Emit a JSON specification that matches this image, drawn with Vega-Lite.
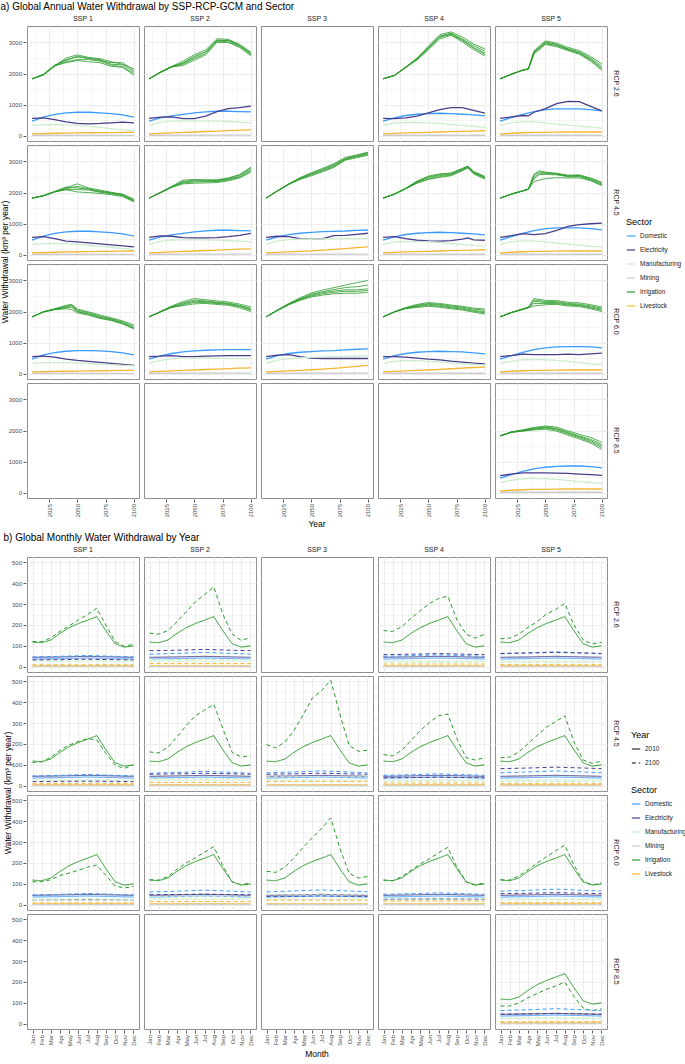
{
 "$schema": "https://vega.github.io/schema/vega-lite/v6.json",
 "background": "white",
 "padding": {"left": 0, "top": 2, "right": 0, "bottom": 0},
 "config": {
  "font": "Liberation Sans",
  "view": {"stroke": "#8f8f8f", "strokeWidth": 1},
  "axis": {"labelFontSize": 6, "labelColor": "#4d4d4d", "tickColor": "#333333", "tickSize": 3, "tickWidth": 0.8, "domain": false, "gridColor": "#ebebeb", "gridWidth": 0.8, "labelPadding": 1.5},
  "header": {"labelFontSize": 7, "labelFontWeight": "normal", "labelColor": "#1a1a1a", "labelPadding": 3, "titleFontSize": 8.5, "titleFontWeight": "normal", "titleColor": "#000000"},
  "legend": {"titleFontSize": 9, "titleFontWeight": "normal", "titleColor": "#000000", "labelFontSize": 6.5, "labelColor": "#1a1a1a", "symbolType": "stroke", "symbolSize": 70, "symbolStrokeWidth": 1.2, "rowPadding": 5, "titlePadding": 4, "labelOffset": 4},
  "title": {"fontSize": 10, "fontWeight": "normal", "anchor": "start", "color": "#000000", "offset": 3}
 },
 "datasets": {
  "a": [
   {"s":"SSP 1","r":"RCP 2.6","k":"Irrigation","g":1,"2010":1830,"2020":1960,"2030":2250,"2040":2500,"2050":2600,"2060":2520,"2070":2480,"2080":2380,"2090":2300,"2100":2150},
   {"s":"SSP 1","r":"RCP 2.6","k":"Irrigation","g":2,"2010":1830,"2020":1970,"2030":2260,"2040":2450,"2050":2530,"2060":2500,"2070":2420,"2080":2350,"2090":2350,"2100":2100},
   {"s":"SSP 1","r":"RCP 2.6","k":"Irrigation","g":3,"2010":1830,"2020":1950,"2030":2240,"2040":2380,"2050":2450,"2060":2450,"2070":2400,"2080":2270,"2090":2220,"2100":2000},
   {"s":"SSP 1","r":"RCP 2.6","k":"Irrigation","g":4,"2010":1830,"2020":1980,"2030":2270,"2040":2420,"2050":2560,"2060":2480,"2070":2450,"2080":2300,"2090":2280,"2100":2050},
   {"s":"SSP 1","r":"RCP 2.6","k":"Irrigation","g":5,"2010":1830,"2020":1960,"2030":2250,"2040":2350,"2050":2420,"2060":2380,"2070":2350,"2080":2230,"2090":2200,"2100":1950},
   {"s":"SSP 1","r":"RCP 2.6","k":"Domestic","g":0,"2010":470,"2020":600,"2030":690,"2040":734,"2050":755,"2060":755,"2070":734,"2080":713,"2090":670,"2100":600},
   {"s":"SSP 1","r":"RCP 2.6","k":"Electricity","g":0,"2010":560,"2020":575,"2030":521,"2040":447,"2050":394,"2060":383,"2070":394,"2080":415,"2090":440,"2100":410},
   {"s":"SSP 1","r":"RCP 2.6","k":"Manufacturing","g":0,"2010":330,"2020":350,"2030":360,"2040":350,"2050":330,"2060":300,"2070":270,"2080":230,"2090":190,"2100":150},
   {"s":"SSP 1","r":"RCP 2.6","k":"Mining","g":0,"2010":15,"2100":12},
   {"s":"SSP 1","r":"RCP 2.6","k":"Livestock","g":0,"2010":60,"2020":70,"2030":80,"2040":85,"2050":90,"2060":95,"2070":100,"2080":100,"2090":105,"2100":105},

   {"s":"SSP 2","r":"RCP 2.6","k":"Irrigation","g":1,"2010":1830,"2020":2050,"2030":2230,"2040":2400,"2050":2610,"2060":2760,"2070":3120,"2080":3100,"2090":2940,"2100":2690},
   {"s":"SSP 2","r":"RCP 2.6","k":"Irrigation","g":2,"2010":1830,"2020":2030,"2030":2210,"2040":2350,"2050":2560,"2060":2700,"2070":3080,"2080":3060,"2090":2900,"2100":2650},
   {"s":"SSP 2","r":"RCP 2.6","k":"Irrigation","g":3,"2010":1830,"2020":2040,"2030":2220,"2040":2300,"2050":2480,"2060":2640,"2070":3050,"2080":3020,"2090":2870,"2100":2610},
   {"s":"SSP 2","r":"RCP 2.6","k":"Irrigation","g":4,"2010":1830,"2020":2050,"2030":2230,"2040":2330,"2050":2520,"2060":2700,"2070":3040,"2080":3080,"2090":2910,"2100":2640},
   {"s":"SSP 2","r":"RCP 2.6","k":"Irrigation","g":5,"2010":1830,"2020":2030,"2030":2210,"2040":2260,"2050":2430,"2060":2600,"2070":3000,"2080":3000,"2090":2840,"2100":2570},
   {"s":"SSP 2","r":"RCP 2.6","k":"Domestic","g":0,"2010":470,"2020":575,"2030":640,"2040":690,"2050":734,"2060":766,"2070":787,"2080":787,"2090":777,"2100":766},
   {"s":"SSP 2","r":"RCP 2.6","k":"Electricity","g":0,"2010":560,"2020":596,"2030":606,"2040":553,"2050":553,"2060":628,"2070":777,"2080":872,"2090":904,"2100":950},
   {"s":"SSP 2","r":"RCP 2.6","k":"Manufacturing","g":0,"2010":330,"2020":430,"2030":468,"2040":479,"2050":479,"2060":479,"2070":468,"2080":457,"2090":436,"2100":415},
   {"s":"SSP 2","r":"RCP 2.6","k":"Mining","g":0,"2010":15,"2100":18},
   {"s":"SSP 2","r":"RCP 2.6","k":"Livestock","g":0,"2010":60,"2020":75,"2030":90,"2040":105,"2050":120,"2060":135,"2070":150,"2080":165,"2090":180,"2100":190},

   {"s":"SSP 4","r":"RCP 2.6","k":"Irrigation","g":1,"2010":1830,"2020":1945,"2030":2210,"2040":2500,"2050":2880,"2060":3250,"2070":3340,"2080":3180,"2090":2950,"2100":2790},
   {"s":"SSP 4","r":"RCP 2.6","k":"Irrigation","g":2,"2010":1830,"2020":1940,"2030":2200,"2040":2480,"2050":2840,"2060":3200,"2070":3300,"2080":3120,"2090":2900,"2100":2720},
   {"s":"SSP 4","r":"RCP 2.6","k":"Irrigation","g":3,"2010":1830,"2020":1935,"2030":2195,"2040":2460,"2050":2800,"2060":3160,"2070":3280,"2080":3090,"2090":2840,"2100":2660},
   {"s":"SSP 4","r":"RCP 2.6","k":"Irrigation","g":4,"2010":1830,"2020":1945,"2030":2205,"2040":2470,"2050":2830,"2060":3190,"2070":3260,"2080":3060,"2090":2820,"2100":2620},
   {"s":"SSP 4","r":"RCP 2.6","k":"Irrigation","g":5,"2010":1830,"2020":1935,"2030":2190,"2040":2440,"2050":2760,"2060":3110,"2070":3230,"2080":3020,"2090":2770,"2100":2570},
   {"s":"SSP 4","r":"RCP 2.6","k":"Domestic","g":0,"2010":470,"2020":575,"2030":650,"2040":690,"2050":713,"2060":723,"2070":713,"2080":690,"2090":670,"2100":640},
   {"s":"SSP 4","r":"RCP 2.6","k":"Electricity","g":0,"2010":560,"2020":553,"2030":575,"2040":628,"2050":734,"2060":840,"2070":904,"2080":904,"2090":819,"2100":723},
   {"s":"SSP 4","r":"RCP 2.6","k":"Manufacturing","g":0,"2010":330,"2020":410,"2030":425,"2040":425,"2050":415,"2060":394,"2070":360,"2080":330,"2090":298,"2100":266},
   {"s":"SSP 4","r":"RCP 2.6","k":"Mining","g":0,"2010":15,"2100":15},
   {"s":"SSP 4","r":"RCP 2.6","k":"Livestock","g":0,"2010":60,"2020":75,"2030":90,"2040":100,"2050":110,"2060":120,"2070":130,"2080":140,"2090":150,"2100":160},

   {"s":"SSP 5","r":"RCP 2.6","k":"Irrigation","g":1,"2010":1830,"2020":1985,"2030":2115,"2035":2155,"2040":2740,"2050":3050,"2060":2980,"2070":2840,"2080":2740,"2090":2550,"2100":2310},
   {"s":"SSP 5","r":"RCP 2.6","k":"Irrigation","g":2,"2010":1830,"2020":1980,"2030":2110,"2035":2150,"2040":2700,"2050":3020,"2060":2940,"2070":2800,"2080":2700,"2090":2500,"2100":2240},
   {"s":"SSP 5","r":"RCP 2.6","k":"Irrigation","g":3,"2010":1830,"2020":1975,"2030":2105,"2035":2145,"2040":2660,"2050":2990,"2060":2920,"2070":2780,"2080":2670,"2090":2460,"2100":2180},
   {"s":"SSP 5","r":"RCP 2.6","k":"Irrigation","g":4,"2010":1830,"2020":1980,"2030":2110,"2035":2150,"2040":2690,"2050":2960,"2060":2900,"2070":2760,"2080":2650,"2090":2440,"2100":2150},
   {"s":"SSP 5","r":"RCP 2.6","k":"Irrigation","g":5,"2010":1830,"2020":1975,"2030":2105,"2035":2140,"2040":2620,"2050":2940,"2060":2860,"2070":2740,"2080":2620,"2090":2400,"2100":2100},
   {"s":"SSP 5","r":"RCP 2.6","k":"Domestic","g":0,"2010":470,"2020":585,"2030":690,"2040":777,"2050":840,"2060":862,"2070":862,"2080":862,"2090":840,"2100":798},
   {"s":"SSP 5","r":"RCP 2.6","k":"Electricity","g":0,"2010":560,"2020":606,"2030":650,"2035":640,"2040":755,"2050":872,"2060":1030,"2070":1106,"2080":1096,"2090":947,"2100":798},
   {"s":"SSP 5","r":"RCP 2.6","k":"Manufacturing","g":0,"2010":330,"2020":415,"2030":447,"2040":447,"2050":415,"2060":372,"2070":340,"2080":308,"2090":277,"2100":245},
   {"s":"SSP 5","r":"RCP 2.6","k":"Mining","g":0,"2010":15,"2100":15},
   {"s":"SSP 5","r":"RCP 2.6","k":"Livestock","g":0,"2010":60,"2020":80,"2030":95,"2040":105,"2050":110,"2060":115,"2070":120,"2080":120,"2090":120,"2100":120},

   {"s":"SSP 1","r":"RCP 4.5","k":"Irrigation","g":1,"2010":1820,"2020":1900,"2030":2030,"2040":2150,"2050":2280,"2060":2150,"2070":2080,"2080":2010,"2090":1950,"2100":1790},
   {"s":"SSP 1","r":"RCP 4.5","k":"Irrigation","g":2,"2010":1820,"2020":1890,"2030":2020,"2040":2120,"2050":2200,"2060":2120,"2070":2050,"2080":1990,"2090":1930,"2100":1760},
   {"s":"SSP 1","r":"RCP 4.5","k":"Irrigation","g":3,"2010":1820,"2020":1905,"2030":2035,"2040":2180,"2050":2150,"2060":2100,"2070":2030,"2080":1980,"2090":1920,"2100":1740},
   {"s":"SSP 1","r":"RCP 4.5","k":"Irrigation","g":4,"2010":1820,"2020":1895,"2030":2020,"2040":2100,"2050":2100,"2060":2080,"2070":2010,"2080":1960,"2090":1900,"2100":1720},
   {"s":"SSP 1","r":"RCP 4.5","k":"Irrigation","g":5,"2010":1820,"2020":1900,"2030":2025,"2040":2090,"2050":2020,"2060":2000,"2070":1970,"2080":1930,"2090":1870,"2100":1700},
   {"s":"SSP 1","r":"RCP 4.5","k":"Domestic","g":0,"2010":470,"2020":600,"2030":690,"2040":734,"2050":755,"2060":755,"2070":734,"2080":713,"2090":670,"2100":600},
   {"s":"SSP 1","r":"RCP 4.5","k":"Electricity","g":0,"2010":560,"2020":583,"2030":520,"2040":435,"2050":413,"2060":382,"2070":350,"2080":318,"2090":286,"2100":254},
   {"s":"SSP 1","r":"RCP 4.5","k":"Manufacturing","g":0,"2010":330,"2020":355,"2030":365,"2040":355,"2050":335,"2060":305,"2070":275,"2080":240,"2090":200,"2100":160},
   {"s":"SSP 1","r":"RCP 4.5","k":"Mining","g":0,"2010":15,"2100":12},
   {"s":"SSP 1","r":"RCP 4.5","k":"Livestock","g":0,"2010":60,"2020":70,"2030":80,"2040":90,"2050":95,"2060":100,"2070":105,"2080":110,"2090":115,"2100":120},

   {"s":"SSP 2","r":"RCP 4.5","k":"Irrigation","g":1,"2010":1820,"2020":2010,"2030":2200,"2040":2400,"2050":2420,"2060":2410,"2070":2410,"2080":2470,"2090":2580,"2100":2820},
   {"s":"SSP 2","r":"RCP 4.5","k":"Irrigation","g":2,"2010":1820,"2020":2000,"2030":2190,"2040":2360,"2050":2400,"2060":2390,"2070":2390,"2080":2450,"2090":2560,"2100":2780},
   {"s":"SSP 2","r":"RCP 4.5","k":"Irrigation","g":3,"2010":1820,"2020":1995,"2030":2175,"2040":2330,"2050":2370,"2060":2370,"2070":2370,"2080":2430,"2090":2520,"2100":2740},
   {"s":"SSP 2","r":"RCP 4.5","k":"Irrigation","g":4,"2010":1820,"2020":2000,"2030":2180,"2040":2310,"2050":2340,"2060":2350,"2070":2350,"2080":2400,"2090":2490,"2100":2700},
   {"s":"SSP 2","r":"RCP 4.5","k":"Irrigation","g":5,"2010":1820,"2020":1990,"2030":2165,"2040":2280,"2050":2300,"2060":2310,"2070":2320,"2080":2380,"2090":2470,"2100":2660},
   {"s":"SSP 2","r":"RCP 4.5","k":"Domestic","g":0,"2010":470,"2020":575,"2030":640,"2040":690,"2050":734,"2060":766,"2070":787,"2080":787,"2090":777,"2100":766},
   {"s":"SSP 2","r":"RCP 4.5","k":"Electricity","g":0,"2010":560,"2020":605,"2030":594,"2040":550,"2050":540,"2060":540,"2070":550,"2080":583,"2090":625,"2100":690},
   {"s":"SSP 2","r":"RCP 4.5","k":"Manufacturing","g":0,"2010":330,"2020":430,"2030":468,"2040":479,"2050":479,"2060":479,"2070":468,"2080":457,"2090":436,"2100":415},
   {"s":"SSP 2","r":"RCP 4.5","k":"Mining","g":0,"2010":15,"2100":18},
   {"s":"SSP 2","r":"RCP 4.5","k":"Livestock","g":0,"2010":60,"2020":75,"2030":90,"2040":105,"2050":120,"2060":135,"2070":150,"2080":165,"2090":180,"2100":190},

   {"s":"SSP 3","r":"RCP 4.5","k":"Irrigation","g":1,"2010":1820,"2020":2060,"2030":2280,"2040":2480,"2050":2640,"2060":2780,"2070":2930,"2080":3130,"2090":3210,"2100":3300},
   {"s":"SSP 3","r":"RCP 4.5","k":"Irrigation","g":2,"2010":1820,"2020":2055,"2030":2275,"2040":2460,"2050":2610,"2060":2750,"2070":2900,"2080":3100,"2090":3190,"2100":3280},
   {"s":"SSP 3","r":"RCP 4.5","k":"Irrigation","g":3,"2010":1820,"2020":2055,"2030":2270,"2040":2450,"2050":2590,"2060":2720,"2070":2870,"2080":3080,"2090":3170,"2100":3250},
   {"s":"SSP 3","r":"RCP 4.5","k":"Irrigation","g":4,"2010":1820,"2020":2050,"2030":2265,"2040":2440,"2050":2570,"2060":2700,"2070":2840,"2080":3060,"2090":3150,"2100":3230},
   {"s":"SSP 3","r":"RCP 4.5","k":"Irrigation","g":5,"2010":1820,"2020":2050,"2030":2260,"2040":2420,"2050":2540,"2060":2670,"2070":2810,"2080":3040,"2090":3120,"2100":3200},
   {"s":"SSP 3","r":"RCP 4.5","k":"Domestic","g":0,"2010":470,"2020":572,"2030":647,"2040":690,"2050":720,"2060":742,"2070":753,"2080":763,"2090":785,"2100":795},
   {"s":"SSP 3","r":"RCP 4.5","k":"Electricity","g":0,"2010":560,"2020":594,"2030":583,"2040":520,"2050":498,"2060":520,"2070":615,"2080":625,"2090":657,"2100":690},
   {"s":"SSP 3","r":"RCP 4.5","k":"Manufacturing","g":0,"2010":330,"2020":445,"2030":488,"2040":498,"2050":498,"2060":509,"2070":509,"2080":520,"2090":520,"2100":520},
   {"s":"SSP 3","r":"RCP 4.5","k":"Mining","g":0,"2010":15,"2100":20},
   {"s":"SSP 3","r":"RCP 4.5","k":"Livestock","g":0,"2010":60,"2020":75,"2030":90,"2040":105,"2050":125,"2060":145,"2070":170,"2080":195,"2090":225,"2100":254},

   {"s":"SSP 4","r":"RCP 4.5","k":"Irrigation","g":1,"2010":1820,"2020":1955,"2030":2140,"2040":2370,"2050":2530,"2060":2600,"2070":2630,"2080":2780,"2085":2850,"2090":2680,"2100":2520},
   {"s":"SSP 4","r":"RCP 4.5","k":"Irrigation","g":2,"2010":1820,"2020":1950,"2030":2135,"2040":2350,"2050":2500,"2060":2580,"2070":2610,"2080":2760,"2085":2840,"2090":2660,"2100":2500},
   {"s":"SSP 4","r":"RCP 4.5","k":"Irrigation","g":3,"2010":1820,"2020":1950,"2030":2130,"2040":2340,"2050":2480,"2060":2550,"2070":2590,"2080":2740,"2085":2830,"2090":2640,"2100":2480},
   {"s":"SSP 4","r":"RCP 4.5","k":"Irrigation","g":4,"2010":1820,"2020":1945,"2030":2125,"2040":2320,"2050":2440,"2060":2520,"2070":2560,"2080":2720,"2085":2810,"2090":2620,"2100":2460},
   {"s":"SSP 4","r":"RCP 4.5","k":"Irrigation","g":5,"2010":1820,"2020":1945,"2030":2120,"2040":2300,"2050":2420,"2060":2490,"2070":2540,"2080":2700,"2085":2790,"2090":2600,"2100":2430},
   {"s":"SSP 4","r":"RCP 4.5","k":"Domestic","g":0,"2010":470,"2020":575,"2030":650,"2040":690,"2050":713,"2060":723,"2070":713,"2080":690,"2090":670,"2100":640},
   {"s":"SSP 4","r":"RCP 4.5","k":"Electricity","g":0,"2010":560,"2020":583,"2030":520,"2040":466,"2050":445,"2060":435,"2070":455,"2080":500,"2085":540,"2090":480,"2100":466},
   {"s":"SSP 4","r":"RCP 4.5","k":"Manufacturing","g":0,"2010":330,"2020":410,"2030":425,"2040":425,"2050":415,"2060":394,"2070":360,"2080":330,"2090":298,"2100":266},
   {"s":"SSP 4","r":"RCP 4.5","k":"Mining","g":0,"2010":15,"2100":15},
   {"s":"SSP 4","r":"RCP 4.5","k":"Livestock","g":0,"2010":60,"2020":75,"2030":90,"2040":100,"2050":110,"2060":120,"2070":130,"2080":140,"2090":150,"2100":160},

   {"s":"SSP 5","r":"RCP 4.5","k":"Irrigation","g":1,"2010":1820,"2020":1955,"2030":2060,"2035":2115,"2040":2600,"2045":2700,"2050":2660,"2060":2620,"2070":2560,"2080":2570,"2090":2470,"2100":2330},
   {"s":"SSP 5","r":"RCP 4.5","k":"Irrigation","g":2,"2010":1820,"2020":1950,"2030":2055,"2035":2110,"2040":2560,"2045":2660,"2050":2630,"2060":2600,"2070":2540,"2080":2550,"2090":2450,"2100":2300},
   {"s":"SSP 5","r":"RCP 4.5","k":"Irrigation","g":3,"2010":1820,"2020":1950,"2030":2055,"2035":2110,"2040":2500,"2045":2620,"2050":2620,"2060":2590,"2070":2530,"2080":2530,"2090":2430,"2100":2270},
   {"s":"SSP 5","r":"RCP 4.5","k":"Irrigation","g":4,"2010":1820,"2020":1945,"2030":2050,"2035":2105,"2040":2450,"2045":2580,"2050":2580,"2060":2570,"2070":2510,"2080":2510,"2090":2400,"2100":2240},
   {"s":"SSP 5","r":"RCP 4.5","k":"Irrigation","g":5,"2010":1820,"2020":1945,"2030":2050,"2035":2100,"2040":2350,"2045":2400,"2050":2450,"2060":2480,"2070":2470,"2080":2470,"2090":2380,"2100":2220},
   {"s":"SSP 5","r":"RCP 4.5","k":"Domestic","g":0,"2010":470,"2020":585,"2030":690,"2040":777,"2050":840,"2060":862,"2070":862,"2080":862,"2090":840,"2100":798},
   {"s":"SSP 5","r":"RCP 4.5","k":"Electricity","g":0,"2010":560,"2020":615,"2030":680,"2040":647,"2050":680,"2060":785,"2070":912,"2080":965,"2090":997,"2100":1018},
   {"s":"SSP 5","r":"RCP 4.5","k":"Manufacturing","g":0,"2010":330,"2020":415,"2030":447,"2040":447,"2050":415,"2060":372,"2070":340,"2080":308,"2090":277,"2100":245},
   {"s":"SSP 5","r":"RCP 4.5","k":"Mining","g":0,"2010":15,"2100":15},
   {"s":"SSP 5","r":"RCP 4.5","k":"Livestock","g":0,"2010":60,"2020":80,"2030":95,"2040":105,"2050":110,"2060":115,"2070":120,"2080":120,"2090":120,"2100":120},

   {"s":"SSP 1","r":"RCP 6.0","k":"Irrigation","g":1,"2010":1830,"2020":1995,"2030":2090,"2040":2200,"2045":2230,"2050":2080,"2060":1990,"2070":1890,"2080":1800,"2090":1700,"2100":1570},
   {"s":"SSP 1","r":"RCP 6.0","k":"Irrigation","g":2,"2010":1830,"2020":1990,"2030":2080,"2040":2170,"2045":2213,"2050":2050,"2060":1960,"2070":1850,"2080":1770,"2090":1670,"2100":1520},
   {"s":"SSP 1","r":"RCP 6.0","k":"Irrigation","g":3,"2010":1830,"2020":1990,"2030":2075,"2040":2140,"2045":2180,"2050":2010,"2060":1930,"2070":1820,"2080":1750,"2090":1640,"2100":1480},
   {"s":"SSP 1","r":"RCP 6.0","k":"Irrigation","g":4,"2010":1830,"2020":1985,"2030":2070,"2040":2120,"2045":2140,"2050":1990,"2060":1910,"2070":1800,"2080":1730,"2090":1620,"2100":1460},
   {"s":"SSP 1","r":"RCP 6.0","k":"Irrigation","g":5,"2010":1830,"2020":1985,"2030":2060,"2040":2090,"2045":2060,"2050":1960,"2060":1880,"2070":1780,"2080":1710,"2090":1600,"2100":1440},
   {"s":"SSP 1","r":"RCP 6.0","k":"Domestic","g":0,"2010":470,"2020":606,"2030":681,"2040":723,"2050":745,"2060":745,"2070":734,"2080":713,"2090":670,"2100":606},
   {"s":"SSP 1","r":"RCP 6.0","k":"Electricity","g":0,"2010":553,"2020":564,"2030":532,"2040":468,"2050":426,"2060":394,"2070":362,"2080":330,"2090":298,"2100":266},
   {"s":"SSP 1","r":"RCP 6.0","k":"Manufacturing","g":0,"2010":330,"2020":360,"2030":360,"2040":360,"2050":350,"2060":330,"2070":310,"2080":290,"2090":270,"2100":250},
   {"s":"SSP 1","r":"RCP 6.0","k":"Mining","g":0,"2010":15,"2100":12},
   {"s":"SSP 1","r":"RCP 6.0","k":"Livestock","g":0,"2010":60,"2020":68,"2030":75,"2040":80,"2050":85,"2060":90,"2070":95,"2080":100,"2090":105,"2100":106},

   {"s":"SSP 2","r":"RCP 6.0","k":"Irrigation","g":1,"2010":1830,"2020":2000,"2030":2180,"2040":2320,"2050":2420,"2060":2380,"2070":2340,"2080":2310,"2090":2240,"2100":2150},
   {"s":"SSP 2","r":"RCP 6.0","k":"Irrigation","g":2,"2010":1830,"2020":1995,"2030":2160,"2040":2280,"2050":2370,"2060":2340,"2070":2300,"2080":2270,"2090":2200,"2100":2100},
   {"s":"SSP 2","r":"RCP 6.0","k":"Irrigation","g":3,"2010":1830,"2020":1990,"2030":2150,"2040":2250,"2050":2330,"2060":2320,"2070":2280,"2080":2250,"2090":2180,"2100":2070},
   {"s":"SSP 2","r":"RCP 6.0","k":"Irrigation","g":4,"2010":1830,"2020":1990,"2030":2140,"2040":2220,"2050":2300,"2060":2290,"2070":2260,"2080":2230,"2090":2160,"2100":2040},
   {"s":"SSP 2","r":"RCP 6.0","k":"Irrigation","g":5,"2010":1830,"2020":1985,"2030":2130,"2040":2190,"2050":2250,"2060":2260,"2070":2230,"2080":2200,"2090":2120,"2100":2000},
   {"s":"SSP 2","r":"RCP 6.0","k":"Domestic","g":0,"2010":470,"2020":575,"2030":650,"2040":700,"2050":735,"2060":755,"2070":770,"2080":777,"2090":777,"2100":777},
   {"s":"SSP 2","r":"RCP 6.0","k":"Electricity","g":0,"2010":553,"2020":564,"2030":585,"2040":553,"2050":553,"2060":564,"2070":575,"2080":585,"2090":585,"2100":585},
   {"s":"SSP 2","r":"RCP 6.0","k":"Manufacturing","g":0,"2010":330,"2020":430,"2030":479,"2040":500,"2050":511,"2060":505,"2070":500,"2080":495,"2090":487,"2100":479},
   {"s":"SSP 2","r":"RCP 6.0","k":"Mining","g":0,"2010":15,"2100":18},
   {"s":"SSP 2","r":"RCP 6.0","k":"Livestock","g":0,"2010":60,"2020":75,"2030":90,"2040":105,"2050":120,"2060":135,"2070":150,"2080":165,"2090":180,"2100":190},

   {"s":"SSP 3","r":"RCP 6.0","k":"Irrigation","g":1,"2010":1830,"2020":2050,"2030":2260,"2040":2440,"2050":2600,"2060":2690,"2070":2770,"2080":2850,"2090":2930,"2100":3000},
   {"s":"SSP 3","r":"RCP 6.0","k":"Irrigation","g":2,"2010":1830,"2020":2045,"2030":2245,"2040":2410,"2050":2560,"2060":2640,"2070":2710,"2080":2770,"2090":2800,"2100":2850},
   {"s":"SSP 3","r":"RCP 6.0","k":"Irrigation","g":3,"2010":1830,"2020":2040,"2030":2235,"2040":2395,"2050":2530,"2060":2610,"2070":2660,"2080":2700,"2090":2700,"2100":2730},
   {"s":"SSP 3","r":"RCP 6.0","k":"Irrigation","g":4,"2010":1830,"2020":2035,"2030":2225,"2040":2380,"2050":2500,"2060":2570,"2070":2620,"2080":2650,"2090":2650,"2100":2680},
   {"s":"SSP 3","r":"RCP 6.0","k":"Irrigation","g":5,"2010":1830,"2020":2030,"2030":2215,"2040":2360,"2050":2470,"2060":2530,"2070":2570,"2080":2590,"2090":2590,"2100":2620},
   {"s":"SSP 3","r":"RCP 6.0","k":"Domestic","g":0,"2010":470,"2020":585,"2030":650,"2040":690,"2050":713,"2060":734,"2070":745,"2080":766,"2090":787,"2100":798},
   {"s":"SSP 3","r":"RCP 6.0","k":"Electricity","g":0,"2010":553,"2020":596,"2030":617,"2040":553,"2050":500,"2060":490,"2070":490,"2080":490,"2090":490,"2100":490},
   {"s":"SSP 3","r":"RCP 6.0","k":"Manufacturing","g":0,"2010":330,"2020":440,"2030":479,"2040":510,"2050":532,"2060":540,"2070":553,"2080":560,"2090":568,"2100":575},
   {"s":"SSP 3","r":"RCP 6.0","k":"Mining","g":0,"2010":15,"2100":20},
   {"s":"SSP 3","r":"RCP 6.0","k":"Livestock","g":0,"2010":60,"2020":75,"2030":90,"2040":105,"2050":128,"2060":150,"2070":175,"2080":205,"2090":235,"2100":266},

   {"s":"SSP 4","r":"RCP 6.0","k":"Irrigation","g":1,"2010":1830,"2020":1995,"2030":2130,"2040":2230,"2050":2290,"2060":2260,"2070":2210,"2080":2170,"2090":2110,"2100":2080},
   {"s":"SSP 4","r":"RCP 6.0","k":"Irrigation","g":2,"2010":1830,"2020":1990,"2030":2115,"2040":2200,"2050":2260,"2060":2230,"2070":2180,"2080":2140,"2090":2080,"2100":2040},
   {"s":"SSP 4","r":"RCP 6.0","k":"Irrigation","g":3,"2010":1830,"2020":1990,"2030":2110,"2040":2180,"2050":2235,"2060":2200,"2070":2150,"2080":2110,"2090":2040,"2100":1990},
   {"s":"SSP 4","r":"RCP 6.0","k":"Irrigation","g":4,"2010":1830,"2020":1985,"2030":2105,"2040":2160,"2050":2200,"2060":2170,"2070":2120,"2080":2080,"2090":2010,"2100":1960},
   {"s":"SSP 4","r":"RCP 6.0","k":"Irrigation","g":5,"2010":1830,"2020":1985,"2030":2095,"2040":2130,"2050":2170,"2060":2140,"2070":2090,"2080":2050,"2090":1980,"2100":1920},
   {"s":"SSP 4","r":"RCP 6.0","k":"Domestic","g":0,"2010":470,"2020":585,"2030":650,"2040":690,"2050":713,"2060":723,"2070":713,"2080":700,"2090":670,"2100":638},
   {"s":"SSP 4","r":"RCP 6.0","k":"Electricity","g":0,"2010":553,"2020":553,"2030":532,"2040":500,"2050":468,"2060":447,"2070":404,"2080":372,"2090":340,"2100":319},
   {"s":"SSP 4","r":"RCP 6.0","k":"Manufacturing","g":0,"2010":330,"2020":400,"2030":420,"2040":420,"2050":400,"2060":380,"2070":350,"2080":320,"2090":300,"2100":280},
   {"s":"SSP 4","r":"RCP 6.0","k":"Mining","g":0,"2010":15,"2100":15},
   {"s":"SSP 4","r":"RCP 6.0","k":"Livestock","g":0,"2010":60,"2020":75,"2030":90,"2040":105,"2050":120,"2060":140,"2070":160,"2080":180,"2090":200,"2100":213},

   {"s":"SSP 5","r":"RCP 6.0","k":"Irrigation","g":1,"2010":1830,"2020":1975,"2030":2085,"2035":2140,"2040":2420,"2050":2360,"2060":2350,"2070":2300,"2080":2280,"2090":2220,"2100":2150},
   {"s":"SSP 5","r":"RCP 6.0","k":"Irrigation","g":2,"2010":1830,"2020":1970,"2030":2080,"2035":2135,"2040":2370,"2050":2320,"2060":2320,"2070":2260,"2080":2240,"2090":2180,"2100":2110},
   {"s":"SSP 5","r":"RCP 6.0","k":"Irrigation","g":3,"2010":1830,"2020":1970,"2030":2075,"2035":2130,"2040":2330,"2050":2290,"2060":2290,"2070":2235,"2080":2213,"2090":2150,"2100":2075},
   {"s":"SSP 5","r":"RCP 6.0","k":"Irrigation","g":4,"2010":1830,"2020":1965,"2030":2070,"2035":2125,"2040":2260,"2050":2260,"2060":2260,"2070":2210,"2080":2190,"2090":2120,"2100":2040},
   {"s":"SSP 5","r":"RCP 6.0","k":"Irrigation","g":5,"2010":1830,"2020":1965,"2030":2065,"2035":2120,"2040":2180,"2050":2220,"2060":2230,"2070":2180,"2080":2160,"2090":2090,"2100":2000},
   {"s":"SSP 5","r":"RCP 6.0","k":"Domestic","g":0,"2010":470,"2020":585,"2030":690,"2040":777,"2050":830,"2060":862,"2070":872,"2080":872,"2090":862,"2100":830},
   {"s":"SSP 5","r":"RCP 6.0","k":"Electricity","g":0,"2010":553,"2020":585,"2030":628,"2040":617,"2050":617,"2060":617,"2070":628,"2080":617,"2090":638,"2100":660},
   {"s":"SSP 5","r":"RCP 6.0","k":"Manufacturing","g":0,"2010":330,"2020":400,"2030":450,"2040":460,"2050":450,"2060":430,"2070":400,"2080":360,"2090":320,"2100":290},
   {"s":"SSP 5","r":"RCP 6.0","k":"Mining","g":0,"2010":15,"2100":15},
   {"s":"SSP 5","r":"RCP 6.0","k":"Livestock","g":0,"2010":60,"2020":80,"2030":95,"2040":105,"2050":110,"2060":115,"2070":120,"2080":120,"2090":120,"2100":120},

   {"s":"SSP 5","r":"RCP 8.5","k":"Irrigation","g":1,"2010":1830,"2020":1960,"2030":2020,"2040":2100,"2050":2150,"2060":2110,"2070":1990,"2080":1880,"2090":1780,"2100":1620},
   {"s":"SSP 5","r":"RCP 8.5","k":"Irrigation","g":2,"2010":1830,"2020":1955,"2030":2010,"2040":2080,"2050":2120,"2060":2070,"2070":1950,"2080":1830,"2090":1720,"2100":1550},
   {"s":"SSP 5","r":"RCP 8.5","k":"Irrigation","g":3,"2010":1830,"2020":1950,"2030":2000,"2040":2060,"2050":2100,"2060":2050,"2070":1920,"2080":1800,"2090":1680,"2100":1500},
   {"s":"SSP 5","r":"RCP 8.5","k":"Irrigation","g":4,"2010":1830,"2020":1945,"2030":1990,"2040":2040,"2050":2080,"2060":2020,"2070":1890,"2080":1770,"2090":1640,"2100":1450},
   {"s":"SSP 5","r":"RCP 8.5","k":"Irrigation","g":5,"2010":1830,"2020":1940,"2030":1980,"2040":2020,"2050":2040,"2060":1980,"2070":1850,"2080":1730,"2090":1600,"2100":1390},
   {"s":"SSP 5","r":"RCP 8.5","k":"Domestic","g":0,"2010":470,"2020":585,"2030":690,"2040":770,"2050":820,"2060":850,"2070":860,"2080":860,"2090":840,"2100":800},
   {"s":"SSP 5","r":"RCP 8.5","k":"Electricity","g":0,"2010":553,"2020":600,"2030":640,"2040":640,"2050":640,"2060":630,"2070":620,"2080":600,"2090":580,"2100":560},
   {"s":"SSP 5","r":"RCP 8.5","k":"Manufacturing","g":0,"2010":330,"2020":400,"2030":450,"2040":460,"2050":450,"2060":430,"2070":400,"2080":360,"2090":330,"2100":300},
   {"s":"SSP 5","r":"RCP 8.5","k":"Mining","g":0,"2010":15,"2100":15},
   {"s":"SSP 5","r":"RCP 8.5","k":"Livestock","g":0,"2010":60,"2020":80,"2030":95,"2040":105,"2050":110,"2060":115,"2070":120,"2080":120,"2090":120,"2100":120}
  ],
  "b": [
   {"s":"SSP 1","r":"RCP 2.6","k":"Irrigation","y":2010,"Jan":118,"Feb":115,"Mar":128,"Apr":160,"May":187,"Jun":207,"Jul":223,"Aug":240,"Sep":172,"Oct":110,"Nov":94,"Dec":100},
   {"s":"SSP 1","r":"RCP 2.6","k":"Domestic","y":2010,"Jan":37,"Apr":39,"Jul":42,"Oct":39,"Dec":37},
   {"s":"SSP 1","r":"RCP 2.6","k":"Electricity","y":2010,"Jan":45,"Apr":47,"Jul":50,"Oct":47,"Dec":45},
   {"s":"SSP 1","r":"RCP 2.6","k":"Manufacturing","y":2010,"Jan":27,"Dec":27},
   {"s":"SSP 1","r":"RCP 2.6","k":"Mining","y":2010,"Jan":2,"Dec":2},
   {"s":"SSP 1","r":"RCP 2.6","k":"Livestock","y":2010,"Jan":5,"Dec":5},
   {"s":"SSP 1","r":"RCP 2.6","k":"Irrigation","y":2100,"Jan":121,"Feb":120,"Mar":138,"Apr":170,"May":196,"Jun":225,"Jul":250,"Aug":280,"Sep":198,"Oct":120,"Nov":98,"Dec":108},
   {"s":"SSP 1","r":"RCP 2.6","k":"Domestic","y":2100,"Jan":47,"Apr":50,"Jul":54,"Oct":50,"Dec":47},
   {"s":"SSP 1","r":"RCP 2.6","k":"Electricity","y":2100,"Jan":33,"Apr":34,"Jul":36,"Oct":34,"Dec":33},
   {"s":"SSP 1","r":"RCP 2.6","k":"Manufacturing","y":2100,"Jan":12.5,"Dec":12.5},
   {"s":"SSP 1","r":"RCP 2.6","k":"Mining","y":2100,"Jan":1.5,"Dec":1.5},
   {"s":"SSP 1","r":"RCP 2.6","k":"Livestock","y":2100,"Jan":9,"Dec":9},

   {"s":"SSP 2","r":"RCP 2.6","k":"Irrigation","y":2010,"Jan":118,"Feb":115,"Mar":128,"Apr":160,"May":187,"Jun":207,"Jul":223,"Aug":240,"Sep":172,"Oct":110,"Nov":94,"Dec":100},
   {"s":"SSP 2","r":"RCP 2.6","k":"Domestic","y":2010,"Jan":37,"Apr":39,"Jul":42,"Oct":39,"Dec":37},
   {"s":"SSP 2","r":"RCP 2.6","k":"Electricity","y":2010,"Jan":45,"Apr":47,"Jul":50,"Oct":47,"Dec":45},
   {"s":"SSP 2","r":"RCP 2.6","k":"Manufacturing","y":2010,"Jan":27,"Dec":27},
   {"s":"SSP 2","r":"RCP 2.6","k":"Mining","y":2010,"Jan":2,"Dec":2},
   {"s":"SSP 2","r":"RCP 2.6","k":"Livestock","y":2010,"Jan":5,"Dec":5},
   {"s":"SSP 2","r":"RCP 2.6","k":"Irrigation","y":2100,"Jan":161,"Feb":156,"Mar":173,"Apr":216,"May":263,"Jun":311,"Jul":345,"Aug":382,"Sep":250,"Oct":156,"Nov":126,"Dec":140},
   {"s":"SSP 2","r":"RCP 2.6","k":"Domestic","y":2100,"Jan":60,"Apr":64,"Jul":69,"Oct":64,"Dec":60},
   {"s":"SSP 2","r":"RCP 2.6","k":"Electricity","y":2100,"Jan":77,"Apr":79,"Jul":83,"Oct":79,"Dec":77},
   {"s":"SSP 2","r":"RCP 2.6","k":"Manufacturing","y":2100,"Jan":35,"Dec":35},
   {"s":"SSP 2","r":"RCP 2.6","k":"Mining","y":2100,"Jan":1.5,"Dec":1.5},
   {"s":"SSP 2","r":"RCP 2.6","k":"Livestock","y":2100,"Jan":16,"Dec":16},

   {"s":"SSP 4","r":"RCP 2.6","k":"Irrigation","y":2010,"Jan":118,"Feb":115,"Mar":128,"Apr":160,"May":187,"Jun":207,"Jul":223,"Aug":240,"Sep":172,"Oct":110,"Nov":94,"Dec":100},
   {"s":"SSP 4","r":"RCP 2.6","k":"Domestic","y":2010,"Jan":37,"Apr":39,"Jul":42,"Oct":39,"Dec":37},
   {"s":"SSP 4","r":"RCP 2.6","k":"Electricity","y":2010,"Jan":45,"Apr":47,"Jul":50,"Oct":47,"Dec":45},
   {"s":"SSP 4","r":"RCP 2.6","k":"Manufacturing","y":2010,"Jan":27,"Dec":27},
   {"s":"SSP 4","r":"RCP 2.6","k":"Mining","y":2010,"Jan":2,"Dec":2},
   {"s":"SSP 4","r":"RCP 2.6","k":"Livestock","y":2010,"Jan":5,"Dec":5},
   {"s":"SSP 4","r":"RCP 2.6","k":"Irrigation","y":2100,"Jan":173,"Feb":169,"Mar":192,"Apr":232,"May":268,"Jun":303,"Jul":326,"Aug":338,"Sep":224,"Oct":156,"Nov":137,"Dec":156},
   {"s":"SSP 4","r":"RCP 2.6","k":"Domestic","y":2100,"Jan":50,"Apr":53,"Jul":57,"Oct":53,"Dec":50},
   {"s":"SSP 4","r":"RCP 2.6","k":"Electricity","y":2100,"Jan":58,"Apr":60,"Jul":63,"Oct":60,"Dec":58},
   {"s":"SSP 4","r":"RCP 2.6","k":"Manufacturing","y":2100,"Jan":22,"Dec":22},
   {"s":"SSP 4","r":"RCP 2.6","k":"Mining","y":2100,"Jan":1.5,"Dec":1.5},
   {"s":"SSP 4","r":"RCP 2.6","k":"Livestock","y":2100,"Jan":13,"Dec":13},

   {"s":"SSP 5","r":"RCP 2.6","k":"Irrigation","y":2010,"Jan":118,"Feb":115,"Mar":128,"Apr":160,"May":187,"Jun":207,"Jul":223,"Aug":240,"Sep":172,"Oct":110,"Nov":94,"Dec":100},
   {"s":"SSP 5","r":"RCP 2.6","k":"Domestic","y":2010,"Jan":37,"Apr":39,"Jul":42,"Oct":39,"Dec":37},
   {"s":"SSP 5","r":"RCP 2.6","k":"Electricity","y":2010,"Jan":45,"Apr":47,"Jul":50,"Oct":47,"Dec":45},
   {"s":"SSP 5","r":"RCP 2.6","k":"Manufacturing","y":2010,"Jan":27,"Dec":27},
   {"s":"SSP 5","r":"RCP 2.6","k":"Mining","y":2010,"Jan":2,"Dec":2},
   {"s":"SSP 5","r":"RCP 2.6","k":"Livestock","y":2010,"Jan":5,"Dec":5},
   {"s":"SSP 5","r":"RCP 2.6","k":"Irrigation","y":2100,"Jan":134,"Feb":137,"Mar":156,"Apr":189,"May":216,"Jun":252,"Jul":274,"Aug":303,"Sep":200,"Oct":129,"Nov":109,"Dec":117},
   {"s":"SSP 5","r":"RCP 2.6","k":"Domestic","y":2100,"Jan":62,"Apr":66,"Jul":71,"Oct":66,"Dec":62},
   {"s":"SSP 5","r":"RCP 2.6","k":"Electricity","y":2100,"Jan":64,"Apr":66,"Jul":69,"Oct":66,"Dec":64},
   {"s":"SSP 5","r":"RCP 2.6","k":"Manufacturing","y":2100,"Jan":20,"Dec":20},
   {"s":"SSP 5","r":"RCP 2.6","k":"Mining","y":2100,"Jan":1.5,"Dec":1.5},
   {"s":"SSP 5","r":"RCP 2.6","k":"Livestock","y":2100,"Jan":10,"Dec":10},

   {"s":"SSP 1","r":"RCP 4.5","k":"Irrigation","y":2010,"Jan":118,"Feb":115,"Mar":128,"Apr":160,"May":187,"Jun":207,"Jul":223,"Aug":240,"Sep":172,"Oct":110,"Nov":94,"Dec":100},
   {"s":"SSP 1","r":"RCP 4.5","k":"Domestic","y":2010,"Jan":37,"Apr":39,"Jul":42,"Oct":39,"Dec":37},
   {"s":"SSP 1","r":"RCP 4.5","k":"Electricity","y":2010,"Jan":45,"Apr":47,"Jul":50,"Oct":47,"Dec":45},
   {"s":"SSP 1","r":"RCP 4.5","k":"Manufacturing","y":2010,"Jan":27,"Dec":27},
   {"s":"SSP 1","r":"RCP 4.5","k":"Mining","y":2010,"Jan":2,"Dec":2},
   {"s":"SSP 1","r":"RCP 4.5","k":"Livestock","y":2010,"Jan":5,"Dec":5},
   {"s":"SSP 1","r":"RCP 4.5","k":"Irrigation","y":2100,"Jan":112,"Feb":115,"Mar":135,"Apr":170,"May":195,"Jun":212,"Jul":225,"Aug":220,"Sep":154,"Oct":99,"Nov":83,"Dec":99},
   {"s":"SSP 1","r":"RCP 4.5","k":"Domestic","y":2100,"Jan":47,"Apr":50,"Jul":54,"Oct":50,"Dec":47},
   {"s":"SSP 1","r":"RCP 4.5","k":"Electricity","y":2100,"Jan":20,"Apr":21,"Jul":22,"Oct":21,"Dec":20},
   {"s":"SSP 1","r":"RCP 4.5","k":"Manufacturing","y":2100,"Jan":13,"Dec":13},
   {"s":"SSP 1","r":"RCP 4.5","k":"Mining","y":2100,"Jan":1.5,"Dec":1.5},
   {"s":"SSP 1","r":"RCP 4.5","k":"Livestock","y":2100,"Jan":10,"Dec":10},

   {"s":"SSP 2","r":"RCP 4.5","k":"Irrigation","y":2010,"Jan":118,"Feb":115,"Mar":128,"Apr":160,"May":187,"Jun":207,"Jul":223,"Aug":240,"Sep":172,"Oct":110,"Nov":94,"Dec":100},
   {"s":"SSP 2","r":"RCP 4.5","k":"Domestic","y":2010,"Jan":37,"Apr":39,"Jul":42,"Oct":39,"Dec":37},
   {"s":"SSP 2","r":"RCP 4.5","k":"Electricity","y":2010,"Jan":45,"Apr":47,"Jul":50,"Oct":47,"Dec":45},
   {"s":"SSP 2","r":"RCP 4.5","k":"Manufacturing","y":2010,"Jan":27,"Dec":27},
   {"s":"SSP 2","r":"RCP 4.5","k":"Mining","y":2010,"Jan":2,"Dec":2},
   {"s":"SSP 2","r":"RCP 4.5","k":"Livestock","y":2010,"Jan":5,"Dec":5},
   {"s":"SSP 2","r":"RCP 4.5","k":"Irrigation","y":2100,"Jan":162,"Feb":157,"Mar":185,"Apr":233,"May":288,"Jun":335,"Jul":362,"Aug":390,"Sep":272,"Oct":160,"Nov":138,"Dec":143},
   {"s":"SSP 2","r":"RCP 4.5","k":"Domestic","y":2100,"Jan":60,"Apr":64,"Jul":69,"Oct":64,"Dec":60},
   {"s":"SSP 2","r":"RCP 4.5","k":"Electricity","y":2100,"Jan":55,"Apr":57,"Jul":60,"Oct":57,"Dec":55},
   {"s":"SSP 2","r":"RCP 4.5","k":"Manufacturing","y":2100,"Jan":35,"Dec":35},
   {"s":"SSP 2","r":"RCP 4.5","k":"Mining","y":2100,"Jan":1.5,"Dec":1.5},
   {"s":"SSP 2","r":"RCP 4.5","k":"Livestock","y":2100,"Jan":16,"Dec":16},

   {"s":"SSP 3","r":"RCP 4.5","k":"Irrigation","y":2010,"Jan":118,"Feb":115,"Mar":128,"Apr":160,"May":187,"Jun":207,"Jul":223,"Aug":240,"Sep":172,"Oct":110,"Nov":94,"Dec":100},
   {"s":"SSP 3","r":"RCP 4.5","k":"Domestic","y":2010,"Jan":37,"Apr":39,"Jul":42,"Oct":39,"Dec":37},
   {"s":"SSP 3","r":"RCP 4.5","k":"Electricity","y":2010,"Jan":45,"Apr":47,"Jul":50,"Oct":47,"Dec":45},
   {"s":"SSP 3","r":"RCP 4.5","k":"Manufacturing","y":2010,"Jan":27,"Dec":27},
   {"s":"SSP 3","r":"RCP 4.5","k":"Mining","y":2010,"Jan":2,"Dec":2},
   {"s":"SSP 3","r":"RCP 4.5","k":"Livestock","y":2010,"Jan":5,"Dec":5},
   {"s":"SSP 3","r":"RCP 4.5","k":"Irrigation","y":2100,"Jan":197,"Feb":181,"Mar":209,"Apr":265,"May":340,"Jun":420,"Jul":455,"Aug":505,"Sep":340,"Oct":193,"Nov":165,"Dec":170},
   {"s":"SSP 3","r":"RCP 4.5","k":"Domestic","y":2100,"Jan":62,"Apr":66,"Jul":71,"Oct":66,"Dec":62},
   {"s":"SSP 3","r":"RCP 4.5","k":"Electricity","y":2100,"Jan":55,"Apr":57,"Jul":60,"Oct":57,"Dec":55},
   {"s":"SSP 3","r":"RCP 4.5","k":"Manufacturing","y":2100,"Jan":43,"Dec":43},
   {"s":"SSP 3","r":"RCP 4.5","k":"Mining","y":2100,"Jan":1.5,"Dec":1.5},
   {"s":"SSP 3","r":"RCP 4.5","k":"Livestock","y":2100,"Jan":21,"Dec":21},

   {"s":"SSP 4","r":"RCP 4.5","k":"Irrigation","y":2010,"Jan":118,"Feb":115,"Mar":128,"Apr":160,"May":187,"Jun":207,"Jul":223,"Aug":240,"Sep":172,"Oct":110,"Nov":94,"Dec":100},
   {"s":"SSP 4","r":"RCP 4.5","k":"Domestic","y":2010,"Jan":37,"Apr":39,"Jul":42,"Oct":39,"Dec":37},
   {"s":"SSP 4","r":"RCP 4.5","k":"Electricity","y":2010,"Jan":45,"Apr":47,"Jul":50,"Oct":47,"Dec":45},
   {"s":"SSP 4","r":"RCP 4.5","k":"Manufacturing","y":2010,"Jan":27,"Dec":27},
   {"s":"SSP 4","r":"RCP 4.5","k":"Mining","y":2010,"Jan":2,"Dec":2},
   {"s":"SSP 4","r":"RCP 4.5","k":"Livestock","y":2010,"Jan":5,"Dec":5},
   {"s":"SSP 4","r":"RCP 4.5","k":"Irrigation","y":2100,"Jan":149,"Feb":143,"Mar":170,"Apr":217,"May":264,"Jun":303,"Jul":335,"Aug":343,"Sep":225,"Oct":134,"Nov":123,"Dec":134},
   {"s":"SSP 4","r":"RCP 4.5","k":"Domestic","y":2100,"Jan":50,"Apr":53,"Jul":57,"Oct":53,"Dec":50},
   {"s":"SSP 4","r":"RCP 4.5","k":"Electricity","y":2100,"Jan":38,"Apr":39,"Jul":41,"Oct":39,"Dec":38},
   {"s":"SSP 4","r":"RCP 4.5","k":"Manufacturing","y":2100,"Jan":22,"Dec":22},
   {"s":"SSP 4","r":"RCP 4.5","k":"Mining","y":2100,"Jan":1.5,"Dec":1.5},
   {"s":"SSP 4","r":"RCP 4.5","k":"Livestock","y":2100,"Jan":13,"Dec":13},

   {"s":"SSP 5","r":"RCP 4.5","k":"Irrigation","y":2010,"Jan":118,"Feb":115,"Mar":128,"Apr":160,"May":187,"Jun":207,"Jul":223,"Aug":240,"Sep":172,"Oct":110,"Nov":94,"Dec":100},
   {"s":"SSP 5","r":"RCP 4.5","k":"Domestic","y":2010,"Jan":37,"Apr":39,"Jul":42,"Oct":39,"Dec":37},
   {"s":"SSP 5","r":"RCP 4.5","k":"Electricity","y":2010,"Jan":45,"Apr":47,"Jul":50,"Oct":47,"Dec":45},
   {"s":"SSP 5","r":"RCP 4.5","k":"Manufacturing","y":2010,"Jan":27,"Dec":27},
   {"s":"SSP 5","r":"RCP 4.5","k":"Mining","y":2010,"Jan":2,"Dec":2},
   {"s":"SSP 5","r":"RCP 4.5","k":"Livestock","y":2010,"Jan":5,"Dec":5},
   {"s":"SSP 5","r":"RCP 4.5","k":"Irrigation","y":2100,"Jan":134,"Feb":137,"Mar":162,"Apr":201,"May":241,"Jun":280,"Jul":307,"Aug":335,"Sep":209,"Oct":123,"Nov":107,"Dec":118},
   {"s":"SSP 5","r":"RCP 4.5","k":"Domestic","y":2100,"Jan":62,"Apr":66,"Jul":71,"Oct":66,"Dec":62},
   {"s":"SSP 5","r":"RCP 4.5","k":"Electricity","y":2100,"Jan":82,"Apr":85,"Jul":89,"Oct":85,"Dec":82},
   {"s":"SSP 5","r":"RCP 4.5","k":"Manufacturing","y":2100,"Jan":20,"Dec":20},
   {"s":"SSP 5","r":"RCP 4.5","k":"Mining","y":2100,"Jan":1.5,"Dec":1.5},
   {"s":"SSP 5","r":"RCP 4.5","k":"Livestock","y":2100,"Jan":10,"Dec":10},

   {"s":"SSP 1","r":"RCP 6.0","k":"Irrigation","y":2010,"Jan":118,"Feb":115,"Mar":128,"Apr":160,"May":187,"Jun":207,"Jul":223,"Aug":240,"Sep":172,"Oct":110,"Nov":94,"Dec":100},
   {"s":"SSP 1","r":"RCP 6.0","k":"Domestic","y":2010,"Jan":37,"Apr":39,"Jul":42,"Oct":39,"Dec":37},
   {"s":"SSP 1","r":"RCP 6.0","k":"Electricity","y":2010,"Jan":45,"Apr":47,"Jul":50,"Oct":47,"Dec":45},
   {"s":"SSP 1","r":"RCP 6.0","k":"Manufacturing","y":2010,"Jan":27,"Dec":27},
   {"s":"SSP 1","r":"RCP 6.0","k":"Mining","y":2010,"Jan":2,"Dec":2},
   {"s":"SSP 1","r":"RCP 6.0","k":"Livestock","y":2010,"Jan":5,"Dec":5},
   {"s":"SSP 1","r":"RCP 6.0","k":"Irrigation","y":2100,"Jan":110,"Feb":110,"Mar":120,"Apr":140,"May":152,"Jun":165,"Jul":180,"Aug":190,"Sep":140,"Oct":90,"Nov":80,"Dec":88},
   {"s":"SSP 1","r":"RCP 6.0","k":"Domestic","y":2100,"Jan":47,"Apr":50,"Jul":54,"Oct":50,"Dec":47},
   {"s":"SSP 1","r":"RCP 6.0","k":"Electricity","y":2100,"Jan":21,"Apr":22,"Jul":23,"Oct":22,"Dec":21},
   {"s":"SSP 1","r":"RCP 6.0","k":"Manufacturing","y":2100,"Jan":21,"Dec":21},
   {"s":"SSP 1","r":"RCP 6.0","k":"Mining","y":2100,"Jan":1.5,"Dec":1.5},
   {"s":"SSP 1","r":"RCP 6.0","k":"Livestock","y":2100,"Jan":9,"Dec":9},

   {"s":"SSP 2","r":"RCP 6.0","k":"Irrigation","y":2010,"Jan":118,"Feb":115,"Mar":128,"Apr":160,"May":187,"Jun":207,"Jul":223,"Aug":240,"Sep":172,"Oct":110,"Nov":94,"Dec":100},
   {"s":"SSP 2","r":"RCP 6.0","k":"Domestic","y":2010,"Jan":37,"Apr":39,"Jul":42,"Oct":39,"Dec":37},
   {"s":"SSP 2","r":"RCP 6.0","k":"Electricity","y":2010,"Jan":45,"Apr":47,"Jul":50,"Oct":47,"Dec":45},
   {"s":"SSP 2","r":"RCP 6.0","k":"Manufacturing","y":2010,"Jan":27,"Dec":27},
   {"s":"SSP 2","r":"RCP 6.0","k":"Mining","y":2010,"Jan":2,"Dec":2},
   {"s":"SSP 2","r":"RCP 6.0","k":"Livestock","y":2010,"Jan":5,"Dec":5},
   {"s":"SSP 2","r":"RCP 6.0","k":"Irrigation","y":2100,"Jan":120,"Feb":118,"Mar":135,"Apr":170,"May":200,"Jun":225,"Jul":252,"Aug":278,"Sep":185,"Oct":110,"Nov":95,"Dec":105},
   {"s":"SSP 2","r":"RCP 6.0","k":"Domestic","y":2100,"Jan":61,"Apr":65,"Jul":70,"Oct":65,"Dec":61},
   {"s":"SSP 2","r":"RCP 6.0","k":"Electricity","y":2100,"Jan":48,"Apr":49,"Jul":51,"Oct":49,"Dec":48},
   {"s":"SSP 2","r":"RCP 6.0","k":"Manufacturing","y":2100,"Jan":40,"Dec":40},
   {"s":"SSP 2","r":"RCP 6.0","k":"Mining","y":2100,"Jan":1.5,"Dec":1.5},
   {"s":"SSP 2","r":"RCP 6.0","k":"Livestock","y":2100,"Jan":16,"Dec":16},

   {"s":"SSP 3","r":"RCP 6.0","k":"Irrigation","y":2010,"Jan":118,"Feb":115,"Mar":128,"Apr":160,"May":187,"Jun":207,"Jul":223,"Aug":240,"Sep":172,"Oct":110,"Nov":94,"Dec":100},
   {"s":"SSP 3","r":"RCP 6.0","k":"Domestic","y":2010,"Jan":37,"Apr":39,"Jul":42,"Oct":39,"Dec":37},
   {"s":"SSP 3","r":"RCP 6.0","k":"Electricity","y":2010,"Jan":45,"Apr":47,"Jul":50,"Oct":47,"Dec":45},
   {"s":"SSP 3","r":"RCP 6.0","k":"Manufacturing","y":2010,"Jan":27,"Dec":27},
   {"s":"SSP 3","r":"RCP 6.0","k":"Mining","y":2010,"Jan":2,"Dec":2},
   {"s":"SSP 3","r":"RCP 6.0","k":"Livestock","y":2010,"Jan":5,"Dec":5},
   {"s":"SSP 3","r":"RCP 6.0","k":"Irrigation","y":2100,"Jan":160,"Feb":155,"Mar":180,"Apr":225,"May":275,"Jun":320,"Jul":365,"Aug":415,"Sep":270,"Oct":150,"Nov":128,"Dec":135},
   {"s":"SSP 3","r":"RCP 6.0","k":"Domestic","y":2100,"Jan":62,"Apr":66,"Jul":71,"Oct":66,"Dec":62},
   {"s":"SSP 3","r":"RCP 6.0","k":"Electricity","y":2100,"Jan":40,"Apr":41,"Jul":43,"Oct":41,"Dec":40},
   {"s":"SSP 3","r":"RCP 6.0","k":"Manufacturing","y":2100,"Jan":48,"Dec":48},
   {"s":"SSP 3","r":"RCP 6.0","k":"Mining","y":2100,"Jan":1.5,"Dec":1.5},
   {"s":"SSP 3","r":"RCP 6.0","k":"Livestock","y":2100,"Jan":22,"Dec":22},

   {"s":"SSP 4","r":"RCP 6.0","k":"Irrigation","y":2010,"Jan":118,"Feb":115,"Mar":128,"Apr":160,"May":187,"Jun":207,"Jul":223,"Aug":240,"Sep":172,"Oct":110,"Nov":94,"Dec":100},
   {"s":"SSP 4","r":"RCP 6.0","k":"Domestic","y":2010,"Jan":37,"Apr":39,"Jul":42,"Oct":39,"Dec":37},
   {"s":"SSP 4","r":"RCP 6.0","k":"Electricity","y":2010,"Jan":45,"Apr":47,"Jul":50,"Oct":47,"Dec":45},
   {"s":"SSP 4","r":"RCP 6.0","k":"Manufacturing","y":2010,"Jan":27,"Dec":27},
   {"s":"SSP 4","r":"RCP 6.0","k":"Mining","y":2010,"Jan":2,"Dec":2},
   {"s":"SSP 4","r":"RCP 6.0","k":"Livestock","y":2010,"Jan":5,"Dec":5},
   {"s":"SSP 4","r":"RCP 6.0","k":"Irrigation","y":2100,"Jan":118,"Feb":115,"Mar":135,"Apr":165,"May":195,"Jun":220,"Jul":248,"Aug":275,"Sep":180,"Oct":110,"Nov":95,"Dec":105},
   {"s":"SSP 4","r":"RCP 6.0","k":"Domestic","y":2100,"Jan":50,"Apr":53,"Jul":57,"Oct":53,"Dec":50},
   {"s":"SSP 4","r":"RCP 6.0","k":"Electricity","y":2100,"Jan":26,"Apr":27,"Jul":28,"Oct":27,"Dec":26},
   {"s":"SSP 4","r":"RCP 6.0","k":"Manufacturing","y":2100,"Jan":23,"Dec":23},
   {"s":"SSP 4","r":"RCP 6.0","k":"Mining","y":2100,"Jan":1.5,"Dec":1.5},
   {"s":"SSP 4","r":"RCP 6.0","k":"Livestock","y":2100,"Jan":18,"Dec":18},

   {"s":"SSP 5","r":"RCP 6.0","k":"Irrigation","y":2010,"Jan":118,"Feb":115,"Mar":128,"Apr":160,"May":187,"Jun":207,"Jul":223,"Aug":240,"Sep":172,"Oct":110,"Nov":94,"Dec":100},
   {"s":"SSP 5","r":"RCP 6.0","k":"Domestic","y":2010,"Jan":37,"Apr":39,"Jul":42,"Oct":39,"Dec":37},
   {"s":"SSP 5","r":"RCP 6.0","k":"Electricity","y":2010,"Jan":45,"Apr":47,"Jul":50,"Oct":47,"Dec":45},
   {"s":"SSP 5","r":"RCP 6.0","k":"Manufacturing","y":2010,"Jan":27,"Dec":27},
   {"s":"SSP 5","r":"RCP 6.0","k":"Mining","y":2010,"Jan":2,"Dec":2},
   {"s":"SSP 5","r":"RCP 6.0","k":"Livestock","y":2010,"Jan":5,"Dec":5},
   {"s":"SSP 5","r":"RCP 6.0","k":"Irrigation","y":2100,"Jan":120,"Feb":118,"Mar":138,"Apr":168,"May":200,"Jun":230,"Jul":258,"Aug":285,"Sep":190,"Oct":112,"Nov":95,"Dec":105},
   {"s":"SSP 5","r":"RCP 6.0","k":"Domestic","y":2100,"Jan":65,"Apr":69,"Jul":75,"Oct":69,"Dec":65},
   {"s":"SSP 5","r":"RCP 6.0","k":"Electricity","y":2100,"Jan":53,"Apr":55,"Jul":58,"Oct":55,"Dec":53},
   {"s":"SSP 5","r":"RCP 6.0","k":"Manufacturing","y":2100,"Jan":24,"Dec":24},
   {"s":"SSP 5","r":"RCP 6.0","k":"Mining","y":2100,"Jan":1.5,"Dec":1.5},
   {"s":"SSP 5","r":"RCP 6.0","k":"Livestock","y":2100,"Jan":10,"Dec":10},

   {"s":"SSP 5","r":"RCP 8.5","k":"Irrigation","y":2010,"Jan":118,"Feb":115,"Mar":128,"Apr":160,"May":187,"Jun":207,"Jul":223,"Aug":240,"Sep":172,"Oct":110,"Nov":94,"Dec":100},
   {"s":"SSP 5","r":"RCP 8.5","k":"Domestic","y":2010,"Jan":37,"Apr":39,"Jul":42,"Oct":39,"Dec":37},
   {"s":"SSP 5","r":"RCP 8.5","k":"Electricity","y":2010,"Jan":45,"Apr":47,"Jul":50,"Oct":47,"Dec":45},
   {"s":"SSP 5","r":"RCP 8.5","k":"Manufacturing","y":2010,"Jan":27,"Dec":27},
   {"s":"SSP 5","r":"RCP 8.5","k":"Mining","y":2010,"Jan":2,"Dec":2},
   {"s":"SSP 5","r":"RCP 8.5","k":"Livestock","y":2010,"Jan":5,"Dec":5},
   {"s":"SSP 5","r":"RCP 8.5","k":"Irrigation","y":2100,"Jan":85,"Feb":85,"Mar":100,"Apr":125,"May":145,"Jun":165,"Jul":180,"Aug":200,"Sep":130,"Oct":75,"Nov":62,"Dec":72},
   {"s":"SSP 5","r":"RCP 8.5","k":"Domestic","y":2100,"Jan":63,"Apr":67,"Jul":72,"Oct":67,"Dec":63},
   {"s":"SSP 5","r":"RCP 8.5","k":"Electricity","y":2100,"Jan":46,"Apr":47,"Jul":49,"Oct":47,"Dec":46},
   {"s":"SSP 5","r":"RCP 8.5","k":"Manufacturing","y":2100,"Jan":25,"Dec":25},
   {"s":"SSP 5","r":"RCP 8.5","k":"Mining","y":2100,"Jan":1.5,"Dec":1.5},
   {"s":"SSP 5","r":"RCP 8.5","k":"Livestock","y":2100,"Jan":10,"Dec":10}
  ]
 },
 "vconcat": [
  {
   "title": {"text": "a)      Global Annual Water Withdrawal by SSP-RCP-GCM and Sector"},
   "data": {"name": "a"},
   "transform": [
    {"fold": ["2010","2020","2030","2035","2040","2045","2050","2060","2070","2080","2085","2090","2100"], "as": ["t", "v"]},
    {"filter": "isValid(datum.v)"}
   ],
   "facet": {
    "column": {"field": "s", "type": "nominal", "title": "Year", "header": {"labelOrient": "top", "titleOrient": "bottom", "titlePadding": -7}},
    "row": {"field": "r", "type": "nominal", "title": "Water Withdrawal (km³ per year)", "header": {"labelOrient": "right", "labelAngle": 90, "labelPadding": 5, "titleOrient": "left", "titlePadding": -11}}
   },
   "spacing": {"row": 2, "column": 3},
   "spec": {
    "width": 112,
    "height": 115,
    "mark": {"type": "line"},
    "encoding": {
     "x": {"field": "t", "type": "quantitative", "title": null,
      "scale": {"domain": [2005.5, 2104.5], "nice": false, "zero": false},
      "axis": {"values": [2012.5, 2025, 2037.5, 2050, 2062.5, 2075, 2087.5, 2100], "format": "d", "labelAngle": 270,
       "labelExpr": "datum.value % 25 == 0 ? datum.label : ''",
       "tickOpacity": {"condition": {"test": "datum.value % 25 != 0", "value": 0}, "value": 1},
       "gridWidth": {"condition": {"test": "datum.value % 25 != 0", "value": 0.5}, "value": 0.9}}},
     "y": {"field": "v", "type": "quantitative", "title": null,
      "scale": {"domain": [-170, 3530], "nice": false, "zero": false},
      "axis": {"values": [0, 500, 1000, 1500, 2000, 2500, 3000, 3500], "format": "d",
       "labelExpr": "datum.value % 1000 == 0 ? datum.label : ''",
       "tickOpacity": {"condition": {"test": "datum.value % 1000 != 0", "value": 0}, "value": 1},
       "gridWidth": {"condition": {"test": "datum.value % 1000 != 0", "value": 0.5}, "value": 0.9}}},
     "color": {"field": "k", "type": "nominal", "title": "Sector",
      "scale": {"domain": ["Domestic", "Electricity", "Manufacturing", "Mining", "Irrigation", "Livestock"],
       "range": ["#3a9bff", "#483d8b", "#cdeccd", "#cccccc", "#2a9a2a", "#f7b531"]},
      "legend": {"orient": "none", "legendX": 599, "legendY": 192}},
     "strokeWidth": {"condition": {"test": "datum.k == 'Irrigation'", "value": 0.8}, "value": 1.3},
     "detail": {"field": "g", "type": "nominal"}
    }
   }
  },
  {
   "title": {"text": "b)      Global Monthly Water Withdrawal by Year"},
   "data": {"name": "b"},
   "transform": [
    {"fold": ["Jan","Feb","Mar","Apr","May","Jun","Jul","Aug","Sep","Oct","Nov","Dec"], "as": ["m", "v"]},
    {"filter": "isValid(datum.v)"}
   ],
   "facet": {
    "column": {"field": "s", "type": "nominal", "title": "Month", "header": {"labelOrient": "top", "titleOrient": "bottom", "titlePadding": -6}},
    "row": {"field": "r", "type": "nominal", "title": "Water Withdrawal (km³ per year)", "header": {"labelOrient": "right", "labelAngle": 90, "labelPadding": 5, "titleOrient": "left", "titlePadding": -11}}
   },
   "spacing": {"row": 2, "column": 3},
   "spec": {
    "width": 112,
    "height": 115,
    "mark": {"type": "line", "strokeWidth": 1},
    "encoding": {
     "x": {"field": "m", "type": "ordinal", "title": null,
      "sort": ["Jan","Feb","Mar","Apr","May","Jun","Jul","Aug","Sep","Oct","Nov","Dec"],
      "scale": {"type": "point", "padding": 0.6},
      "axis": {"labelAngle": 270, "grid": true, "gridWidth": 0.9}},
     "y": {"field": "v", "type": "quantitative", "title": null,
      "scale": {"domain": [-25, 525], "nice": false, "zero": false},
      "axis": {"values": [0, 50, 100, 150, 200, 250, 300, 350, 400, 450, 500], "format": "d",
       "labelExpr": "datum.value % 100 == 0 ? datum.label : ''",
       "tickOpacity": {"condition": {"test": "datum.value % 100 != 0", "value": 0}, "value": 1},
       "gridWidth": {"condition": {"test": "datum.value % 100 != 0", "value": 0.5}, "value": 0.9}}},
     "color": {"field": "k", "type": "nominal", "title": "Sector",
      "scale": {"domain": ["Domestic", "Electricity", "Manufacturing", "Mining", "Irrigation", "Livestock"],
       "range": ["#3a9bff", "#483d8b", "#cdeccd", "#cccccc", "#2a9a2a", "#f7b531"]},
      "legend": {"orient": "none", "legendX": 604, "legendY": 229}},
     "strokeDash": {"field": "y", "type": "nominal", "title": "Year",
      "scale": {"domain": [2010, 2100], "range": [[1, 0], [4, 3]]},
      "legend": {"orient": "none", "legendX": 604, "legendY": 174, "symbolStrokeColor": "#000000"}}
    }
   }
  }
 ],
 "spacing": 4,
 "resolve": {
  "scale": {"color": "independent", "strokeDash": "independent"},
  "legend": {"color": "independent", "strokeDash": "independent"}
 }
}
